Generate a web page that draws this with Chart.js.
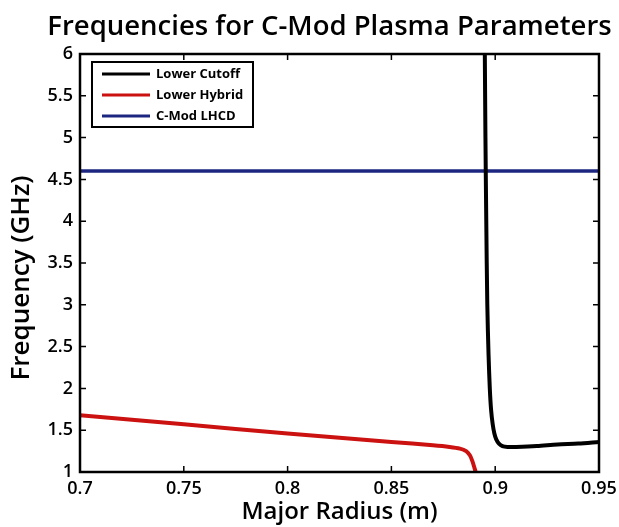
<!DOCTYPE html>
<html>
<head>
<meta charset="utf-8">
<script src="https://cdn.jsdelivr.net/npm/chart.js@4/dist/chart.umd.min.js"></script>
<style>
	html, body { margin: 0; padding: 0; background: #fff; }
	#wrap { width: 619px; height: 527px; }
</style>
</head>
<body>
<div id="wrap"><canvas id="freqChart" width="619" height="527"></canvas></div>
<script>
// major radius (m) and frequency (GHz) for each curve
const cutoffR = [0.8950, 0.8953, 0.8957, 0.8962, 0.8968, 0.8974, 0.8980, 0.8988, 0.8996, 0.9005, 0.9018, 0.9035, 0.9060, 0.9100, 0.9200, 0.9300, 0.9400, 0.9500];
const cutoffF = [6.00, 5.00, 4.00, 3.00, 2.40, 2.00, 1.75, 1.57, 1.46, 1.39, 1.34, 1.31, 1.30, 1.30, 1.31, 1.33, 1.34, 1.36];
const hybridR = [0.700, 0.750, 0.800, 0.850, 0.870, 0.878, 0.883, 0.8860, 0.8878, 0.8890, 0.8900, 0.8906];
const hybridF = [1.68, 1.57, 1.46, 1.36, 1.32, 1.30, 1.28, 1.25, 1.20, 1.13, 1.05, 1.00];
const lhcdR = [0.70, 0.95];
const lhcdF = [4.6, 4.6];

const seriesNames = ["Lower Cutoff", "Lower Hybrid", "C-Mod LHCD"];
const seriesColors = ["#000000", "#cc1111", "#1c2680"];

const xTicks = [0.7, 0.75, 0.8, 0.85, 0.9, 0.95];
const yTicks = [1, 1.5, 2, 2.5, 3, 3.5, 4, 4.5, 5, 5.5, 6];

const chartTitle = "Frequencies for C-Mod Plasma Parameters";
const yLabel = "Frequency (GHz)";

const toPoints = (xs, ys) => xs.map((x, i) => ({ x, y: ys[i] }));
const fmt = (v) => String(+v.toFixed(2));
const FONT = "'Open Sans', 'DejaVu Sans', sans-serif";

// figure title and the rotated y label
const figureText = {
	id: "figureText",
	afterDraw(chart) {
		const { ctx, chartArea: a } = chart;
		ctx.save();
		ctx.fillStyle = "#000";
		ctx.textAlign = "center";
		ctx.font = "600 27.5px " + FONT;
		ctx.textBaseline = "alphabetic";
		ctx.fillText(chartTitle, (a.left + a.right) / 2 - 10, 35);

		ctx.font = "600 26px " + FONT;
		ctx.textBaseline = "middle";
		ctx.translate(22, (a.top + a.bottom) / 2 + 15);
		ctx.rotate(-Math.PI / 2);
		ctx.fillText(yLabel, 0, 0);
		ctx.restore();
	},
};

// matlab style box with inward ticks on all four sides
const boxTicks = {
	id: "boxTicks",
	afterDatasetsDraw(chart) {
		const { ctx, chartArea: a, scales } = chart;
		const len = 6;
		ctx.save();
		ctx.strokeStyle = "#000";
		ctx.lineWidth = 1.5;
		ctx.beginPath();
		xTicks.forEach((t) => {
			const px = scales.x.getPixelForValue(t);
			ctx.moveTo(px, a.bottom); ctx.lineTo(px, a.bottom - len);
			ctx.moveTo(px, a.top); ctx.lineTo(px, a.top + len);
		});
		yTicks.forEach((t) => {
			const py = scales.y.getPixelForValue(t);
			ctx.moveTo(a.left, py); ctx.lineTo(a.left + len, py);
			ctx.moveTo(a.right, py); ctx.lineTo(a.right - len, py);
		});
		ctx.stroke();
		ctx.lineWidth = 2.5;
		ctx.strokeRect(a.left, a.top, a.right - a.left, a.bottom - a.top);
		ctx.restore();
	},
};

// legend box in the upper left corner of the plot
const boxLegend = {
	id: "boxLegend",
	afterDraw(chart) {
		const { ctx, chartArea: a } = chart;
		const x0 = a.left + 12, y0 = a.top + 8;
		const w = 161, h = 65, rowH = 21;
		ctx.save();
		ctx.fillStyle = "#fff";
		ctx.fillRect(x0, y0, w, h);
		ctx.strokeStyle = "#000";
		ctx.lineWidth = 2;
		ctx.strokeRect(x0, y0, w, h);
		ctx.font = "700 13px " + FONT;
		ctx.textBaseline = "middle";
		chart.data.datasets.forEach((ds, i) => {
			const cy = y0 + 12 + i * rowH;
			ctx.strokeStyle = ds.borderColor;
			ctx.lineWidth = 3;
			ctx.beginPath();
			ctx.moveTo(x0 + 10, cy);
			ctx.lineTo(x0 + 58, cy);
			ctx.stroke();
			ctx.fillStyle = "#000";
			ctx.fillText(ds.label, x0 + 64, cy);
		});
		ctx.restore();
	},
};

const lineSet = (label, color, data, width) => ({
	label,
	data,
	borderColor: color,
	backgroundColor: color,
	borderWidth: width,
	showLine: true,
	pointRadius: 0,
	tension: 0.3,
	fill: false,
});

new Chart(document.getElementById("freqChart"), {
	type: "scatter",
	data: {
		datasets: [
			lineSet(seriesNames[0], seriesColors[0], toPoints(cutoffR, cutoffF), 4),
			lineSet(seriesNames[1], seriesColors[1], toPoints(hybridR, hybridF), 4),
			lineSet(seriesNames[2], seriesColors[2], toPoints(lhcdR, lhcdF), 3.5),
		],
	},
	options: {
		responsive: false,
		animation: false,
		layout: { padding: { left: 0, right: 20, top: 54, bottom: 0 } },
		plugins: {
			legend: { display: false },
			tooltip: { enabled: false },
			title: { display: false },
		},
		scales: {
			x: {
				type: "linear",
				min: 0.7,
				max: 0.95,
				afterBuildTicks: (s) => { s.ticks = xTicks.map((v) => ({ value: v })); },
				afterFit: (s) => {
					s.height = 55;
					s.paddingLeft = 0;
					s.paddingRight = 0;
				},
				grid: { display: false, drawTicks: false },
				border: { display: false },
				ticks: {
					color: "#000",
					padding: 6,
					font: { family: FONT, size: 18, weight: "600" },
					callback: (v) => fmt(v),
				},
				title: {
					display: true,
					text: "Major Radius (m)",
					color: "#000",
					padding: { top: -3, bottom: 0 },
					font: { family: FONT, size: 24, weight: "600" },
				},
			},
			y: {
				type: "linear",
				min: 1,
				max: 6,
				afterBuildTicks: (s) => { s.ticks = yTicks.map((v) => ({ value: v })); },
				afterFit: (s) => {
					s.width = 80;
					s.paddingTop = 0;
					s.paddingBottom = 0;
				},
				grid: { display: false, drawTicks: false },
				border: { display: false },
				ticks: {
					color: "#000",
					padding: 7,
					font: { family: FONT, size: 18, weight: "600" },
					callback: (v) => fmt(v),
				},
				title: { display: false },
			},
		},
	},
	plugins: [boxTicks, boxLegend, figureText],
});
</script>
</body>
</html>
